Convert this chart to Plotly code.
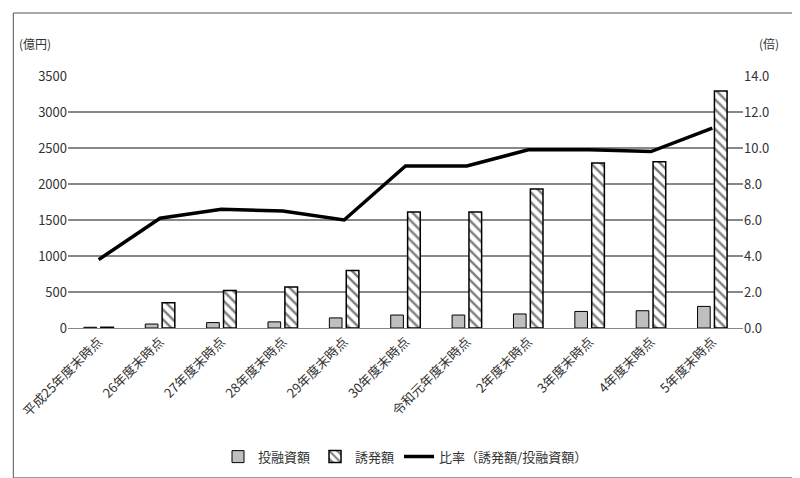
import plotly.graph_objects as go

categories = ["平成25年度末時点", "26年度末時点", "27年度末時点", "28年度末時点", "29年度末時点",
              "30年度末時点", "令和元年度末時点", "2年度末時点", "3年度末時点", "4年度末時点", "5年度末時点"]
investment = [10, 55, 75, 85, 140, 180, 180, 195, 230, 240, 300]
induced = [10, 350, 520, 570, 800, 1610, 1610, 1930, 2290, 2310, 3290]
ratio = [3.8, 6.1, 6.6, 6.5, 6.0, 9.0, 9.0, 9.9, 9.9, 9.8, 11.1]

font = "Noto Sans CJK JP"

fig = go.Figure()
fig.add_bar(x=categories, y=investment, name="投融資額",
            marker=dict(color="#bfbfbf", line=dict(color="black", width=1)))
fig.add_bar(x=categories, y=induced, name="誘発額",
            marker=dict(color="white", line=dict(color="black", width=1.5),
                        pattern=dict(shape="\\", fgcolor="black", bgcolor="white", size=7, solidity=0.35)))
fig.add_scatter(x=categories, y=ratio, name="比率（誘発額/投融資額）", yaxis="y2",
                mode="lines", line=dict(color="black", width=3.5))

fig.update_layout(
    width=800, height=478,
    margin=dict(l=60, r=65, t=68, b=158, autoexpand=False),
    plot_bgcolor="white", paper_bgcolor="white",
    font=dict(family=font, size=13, color="#333"),
    bargap=0.45, bargroupgap=0.25,
    showlegend=True,
    legend=dict(orientation="h", x=0.5, xanchor="center", yref="container", y=0.03, yanchor="bottom",
                font=dict(size=13)),
    xaxis=dict(tickangle=-45, showline=True, linecolor="#888", ticks="", tickfont=dict(size=13)),
    yaxis=dict(range=[0, 3500], dtick=500, showgrid=True, gridcolor="#888", gridwidth=1.5,
               zeroline=False, tickfont=dict(size=13)),
    yaxis2=dict(range=[0, 14], dtick=2, tickformat=".1f", overlaying="y", side="right",
                showgrid=False, zeroline=False, tickfont=dict(size=13)),
    annotations=[
        dict(text="(億円)", xref="paper", yref="paper", x=-0.075, y=1.0, yshift=22, xanchor="left",
             yanchor="bottom", showarrow=False, font=dict(size=12)),
        dict(text="(倍)", xref="paper", yref="paper", x=1.02, y=1.0, yshift=22, xanchor="left",
             yanchor="bottom", showarrow=False, font=dict(size=12)),
    ],
    shapes=[dict(type="rect", xref="paper", yref="paper", x0=-0.081, y0=-0.595, x1=1.089, y1=1.25,
                 line=dict(color="#555", width=1))],
)

fig.write_html("out.html")
